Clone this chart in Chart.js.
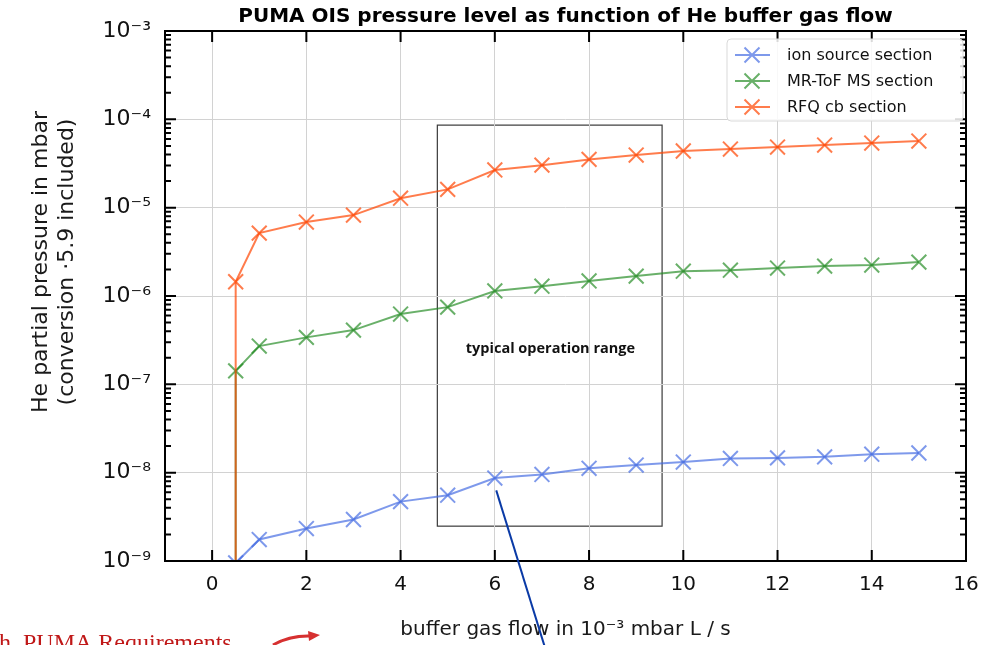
<!DOCTYPE html>
<html>
<head>
<meta charset="utf-8">
<script src="https://cdn.jsdelivr.net/npm/chart.js@4/dist/chart.umd.min.js"></script>
<style>
  html, body { margin: 0; padding: 0; background: #fff; }
  #wrap { width: 986px; height: 645px; }
</style>
</head>
<body>
<div id="wrap"><canvas id="pumaChart" width="986" height="645"></canvas></div>
<script>
// buffer gas flow (10^-3 mbar L/s); first point of each series sits far below the axis
const flow = [0.5, 0.5, 1, 2, 3, 4, 5, 6, 7, 8, 9, 10, 11, 12, 13, 14, 15];
const ionSource = [1e-12, 9.5e-10, 1.75e-9, 2.33e-9, 2.95e-9, 4.7e-9, 5.56e-9, 8.7e-9, 9.55e-9, 1.12e-8, 1.22e-8, 1.32e-8, 1.45e-8, 1.47e-8, 1.51e-8, 1.62e-8, 1.67e-8];
const mrTof = [1e-12, 1.42e-7, 2.71e-7, 3.4e-7, 4.11e-7, 6.24e-7, 7.48e-7, 1.14e-6, 1.29e-6, 1.48e-6, 1.68e-6, 1.91e-6, 1.96e-6, 2.07e-6, 2.18e-6, 2.24e-6, 2.42e-6];
const rfqCb = [1e-12, 1.45e-6, 5.15e-6, 6.87e-6, 8.24e-6, 1.28e-5, 1.61e-5, 2.67e-5, 3.03e-5, 3.52e-5, 3.94e-5, 4.38e-5, 4.61e-5, 4.86e-5, 5.12e-5, 5.39e-5, 5.68e-5];
const seriesNames = ['ion source section', 'MR-ToF MS section', 'RFQ cb section'];
const xTicks = [0, 2, 4, 6, 8, 10, 12, 14, 16];
const yDecades = [1e-9, 1e-8, 1e-7, 1e-6, 1e-5, 1e-4, 1e-3];

// "typical operation range" box, in data units
const rangeX = [4.78, 9.55];
const rangeY = [2.48e-9, 8.6e-5];
const rangeLabelAt = [7.18, 2.5e-7];
// pointer line starts here (data units)
const pointerFrom = [6.03, 6.3e-9];

const colors = ['rgba(65,105,225,0.68)', 'rgba(34,139,34,0.68)', 'rgba(255,69,0,0.7)'];

const SUP = { '-': '⁻', '0': '⁰', '1': '¹', '2': '²', '3': '³', '4': '⁴', '5': '⁵', '6': '⁶', '7': '⁷', '8': '⁸', '9': '⁹' };
const pow10Label = v => '10' + String(Math.round(Math.log10(v))).split('').map(c => SUP[c]).join('');

const toPoints = vals => flow.map((x, i) => ({ x: x, y: vals[i] }));

const extras = {
  id: 'extras',
  beforeDraw(chart) {
    const { ctx, scales: { x, y } } = chart;
    const l = x.getPixelForValue(rangeX[0]), r = x.getPixelForValue(rangeX[1]);
    const t = y.getPixelForValue(rangeY[1]), b = y.getPixelForValue(rangeY[0]);
    ctx.save();
    ctx.strokeStyle = '#3a3a3a';
    ctx.lineWidth = 1.2;
    ctx.strokeRect(l, t, r - l, b - t);
    ctx.fillStyle = '#111';
    ctx.font = 'bold 14.5px "Open Sans"';
    ctx.textAlign = 'center';
    ctx.textBaseline = 'middle';
    ctx.fillText('typical operation range', x.getPixelForValue(rangeLabelAt[0]), y.getPixelForValue(rangeLabelAt[1]));
    ctx.restore();
  },
  afterDraw(chart) {
    const { ctx, chartArea: a, scales: { x, y } } = chart;
    ctx.save();
    // frame
    ctx.strokeStyle = '#000';
    ctx.lineWidth = 2;
    ctx.strokeRect(a.left, a.top, a.right - a.left, a.bottom - a.top);
    // x ticks, inside, top and bottom
    ctx.beginPath();
    xTicks.forEach(v => {
      const px = x.getPixelForValue(v);
      ctx.moveTo(px, a.bottom); ctx.lineTo(px, a.bottom - 11);
      ctx.moveTo(px, a.top); ctx.lineTo(px, a.top + 11);
    });
    // y ticks, major and minor, inside, left and right
    yDecades.forEach((d, i) => {
      let py = y.getPixelForValue(d);
      ctx.moveTo(a.left, py); ctx.lineTo(a.left + 11, py);
      ctx.moveTo(a.right, py); ctx.lineTo(a.right - 11, py);
      if (i === yDecades.length - 1) return;
      for (let k = 2; k <= 9; k++) {
        py = y.getPixelForValue(k * d);
        ctx.moveTo(a.left, py); ctx.lineTo(a.left + 6, py);
        ctx.moveTo(a.right, py); ctx.lineTo(a.right - 6, py);
      }
    });
    ctx.stroke();

    // title over the plot area
    ctx.fillStyle = '#000';
    ctx.font = 'bold 20px "DejaVu Sans"';
    ctx.textAlign = 'center';
    ctx.textBaseline = 'middle';
    ctx.fillText('PUMA OIS pressure level as function of He buffer gas flow', (a.left + a.right) / 2, a.top - 14);

    // y axis title
    ctx.save();
    ctx.translate(41, (a.top + a.bottom) / 2 - 34);
    ctx.rotate(-Math.PI / 2);
    ctx.font = '22px "DejaVu Sans"';
    ctx.fillStyle = '#1a1a1a';
    ctx.fillText('He partial pressure in mbar', 0, 0);
    ctx.fillText('(conversion ·5.9 included)', 0, 26);
    ctx.restore();

    // legend
    const bx = a.right - 239, by = a.top + 8, bw = 236, bh = 82;
    ctx.beginPath();
    ctx.roundRect(bx, by, bw, bh, 4);
    ctx.fillStyle = 'rgba(255,255,255,0.85)';
    ctx.fill();
    ctx.strokeStyle = '#d9d9d9';
    ctx.lineWidth = 1;
    ctx.stroke();
    ctx.font = '16px "DejaVu Sans"';
    ctx.textAlign = 'left';
    seriesNames.forEach((name, i) => {
      const cy = by + 16 + i * 26;
      const mx = bx + 25;
      ctx.strokeStyle = colors[i];
      ctx.lineWidth = 2;
      ctx.beginPath();
      ctx.moveTo(bx + 8, cy); ctx.lineTo(bx + 43, cy);
      ctx.moveTo(mx - 7.5, cy - 7.5); ctx.lineTo(mx + 7.5, cy + 7.5);
      ctx.moveTo(mx - 7.5, cy + 7.5); ctx.lineTo(mx + 7.5, cy - 7.5);
      ctx.stroke();
      ctx.fillStyle = '#111';
      ctx.fillText(name, bx + 60, cy + 1);
    });

    // pointer line from the slide
    const p0x = x.getPixelForValue(pointerFrom[0]), p0y = y.getPixelForValue(pointerFrom[1]);
    ctx.strokeStyle = '#0a3aa6';
    ctx.lineWidth = 2;
    ctx.beginPath();
    ctx.moveTo(p0x, p0y);
    ctx.lineTo(p0x + 49, p0y + 158);
    ctx.stroke();

    // cropped slide caption and arrow
    ctx.fillStyle = '#c01818';
    ctx.font = '24px "Liberation Serif"';
    ctx.textBaseline = 'alphabetic';
    ctx.fillText('h  PUMA Requirements', -1, 650);
    ctx.strokeStyle = '#d63030';
    ctx.lineWidth = 3;
    ctx.beginPath();
    ctx.moveTo(273, 645);
    ctx.quadraticCurveTo(290, 635, 312, 636);
    ctx.stroke();
    ctx.fillStyle = '#d63030';
    ctx.beginPath();
    ctx.moveTo(320, 635); ctx.lineTo(308, 631); ctx.lineTo(309, 641);
    ctx.closePath();
    ctx.fill();
    ctx.restore();
  }
};

const datasets = [ionSource, mrTof, rfqCb].map((vals, i) => ({
  label: seriesNames[i],
  data: toPoints(vals),
  borderColor: colors[i],
  backgroundColor: colors[i],
  borderWidth: 2,
  pointStyle: 'crossRot',
  pointRadius: 10.5,
  pointHoverRadius: 10.5,
  pointBorderWidth: 2,
  tension: 0,
  order: 2 - i
}));

new Chart(document.getElementById('pumaChart').getContext('2d'), {
  type: 'line',
  data: { datasets: datasets },
  options: {
    responsive: false,
    animation: false,
    devicePixelRatio: 1,
    layout: { padding: { top: 31, right: 20, left: 0, bottom: 0 } },
    plugins: {
      legend: { display: false },
      title: { display: false },
      tooltip: { enabled: false }
    },
    scales: {
      x: {
        type: 'linear',
        min: -1,
        max: 16,
        afterBuildTicks: s => { s.ticks = xTicks.map(v => ({ value: v })); },
        afterFit: s => { s.height = 84; s.paddingRight = 0; s.paddingLeft = 0; },
        grid: { color: '#d2d2d2', lineWidth: 1, drawTicks: false },
        border: { display: false },
        ticks: { padding: 12, color: '#111', maxRotation: 0, autoSkip: false, font: { family: 'DejaVu Sans', size: 20 } },
        title: {
          display: true,
          text: 'buffer gas flow in 10⁻³ mbar L / s',
          color: '#1a1a1a',
          font: { family: 'DejaVu Sans', size: 20 },
          padding: { top: 0, bottom: 3 }
        }
      },
      y: {
        type: 'logarithmic',
        min: 1e-9,
        max: 1e-3,
        afterBuildTicks: s => { s.ticks = yDecades.map(v => ({ value: v })); },
        afterFit: s => { s.width = 165; s.paddingTop = 0; s.paddingBottom = 0; },
        grid: { color: '#d2d2d2', lineWidth: 1, drawTicks: false },
        border: { display: false },
        ticks: {
          padding: 14,
          color: '#111',
          autoSkip: false,
          font: { family: 'DejaVu Sans', size: 22 },
          callback: v => pow10Label(v)
        }
      }
    }
  },
  plugins: [extras]
});
</script>
</body>
</html>
